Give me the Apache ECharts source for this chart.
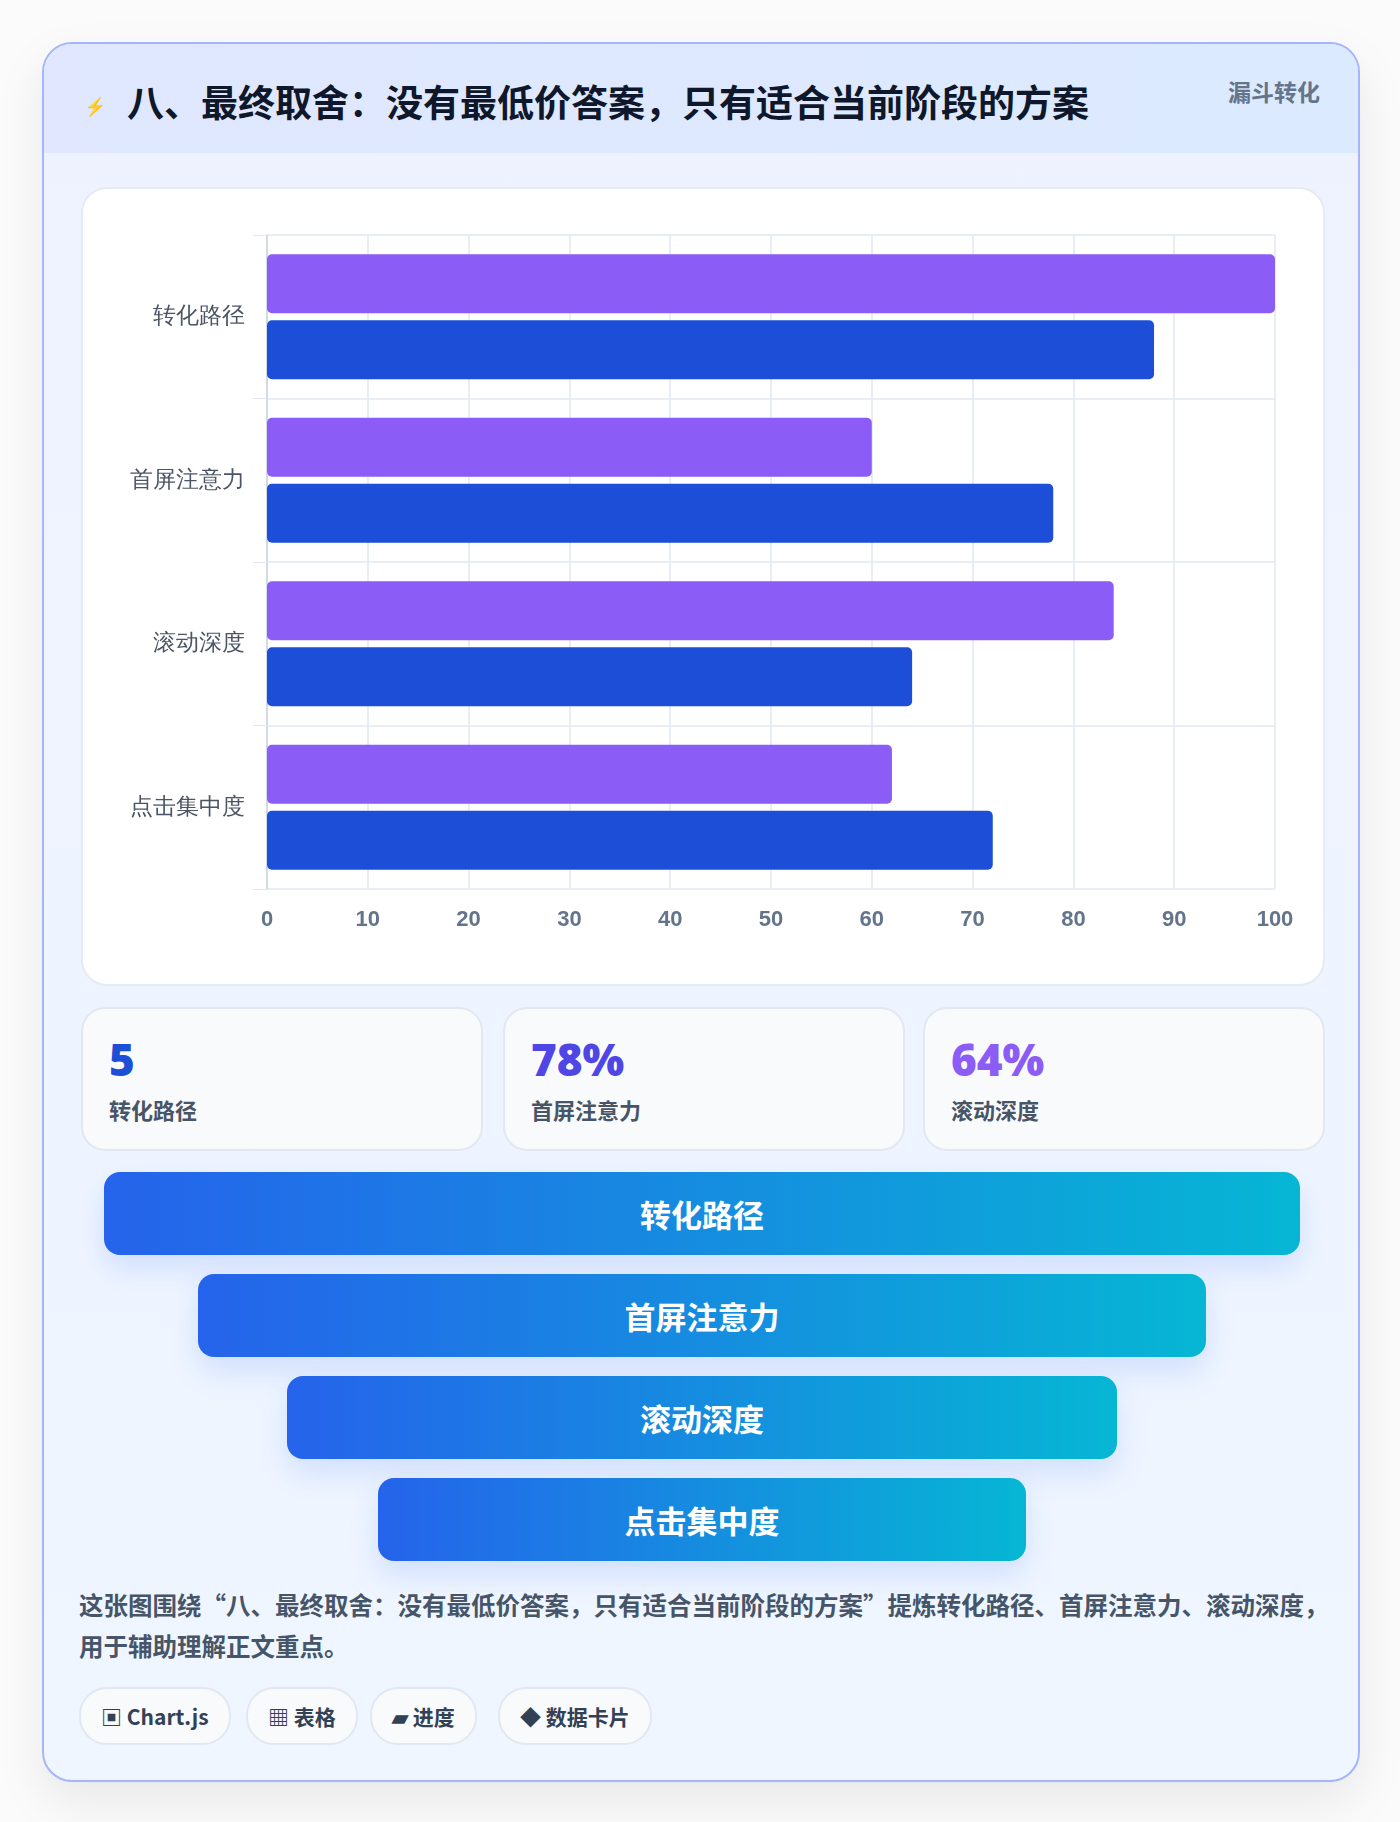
<!DOCTYPE html>
<html><head><meta charset="utf-8">
<script src="https://cdn.jsdelivr.net/npm/echarts@6/dist/echarts.min.js"></script>
<style>
body{margin:0;width:1400px;height:1822px;background:#fbfbfc;font-family:"Noto Sans CJK SC","Noto Sans",sans-serif;position:relative;overflow:hidden}
.card{position:absolute;left:42px;top:42px;width:1314px;height:1736px;border:2px solid #a5b4fc;border-radius:30px;background:linear-gradient(#eef2ff,#eff6ff);box-shadow:0 20px 50px rgba(0,0,0,0.08);overflow:hidden}
.head{position:absolute;left:0;top:0;width:100%;height:109px;background:linear-gradient(90deg,#e0e7ff,#dbeafe)}
.title{position:absolute;left:83px;top:30px;font-size:37px;font-weight:700;color:#0f172a}
.icon{position:absolute;left:40px;top:48px;font-size:18px;color:#2563eb}
.tag{position:absolute;right:38px;top:30px;font-size:23px;font-weight:700;color:#64748b}
.panel{position:absolute;left:37px;top:143px;width:1240px;height:795px;background:#fff;border:2px solid #e5eaf3;border-radius:26px}
#chart{position:absolute;left:0;top:0;width:1240px;height:795px}
.stat{position:absolute;top:963px;height:140px;width:398px;background:#f8fafc;border:2px solid #e2e8f0;border-radius:24px}
.stat .n{position:absolute;left:26px;top:20px;font-size:44px;font-weight:800;font-family:"Open Sans","Noto Sans CJK SC";}
.stat .l{position:absolute;left:26px;top:84px;font-size:22px;font-weight:700;color:#475569}
.fb{position:absolute;height:83px;border-radius:16px;background:linear-gradient(90deg,#2563eb,#06b6d4);color:#fff;font-size:31px;font-weight:700;text-align:center;line-height:83px;box-shadow:0 14px 30px rgba(37,99,235,0.15)}
.desc{position:absolute;left:35px;top:1540px;width:1250px;font-size:24.5px;font-weight:700;color:#475569;line-height:41px}
.pill{position:absolute;top:1643px;height:54px;line-height:54px;border:2px solid #e2e8f0;border-radius:28px;background:#f8fafc;font-size:21px;font-weight:700;color:#334155;padding:0 20px}
</style></head><body>
<div class="card">
<div class="head"><div class="icon">⚡</div><div class="title">八、最终取舍：没有最低价答案，只有适合当前阶段的方案</div><div class="tag">漏斗转化</div></div>
<div class="panel"><div id="chart"></div></div>
<div id="stats"></div>
<div id="funnel"></div>
<div class="desc">这张图围绕“八、最终取舍：没有最低价答案，只有适合当前阶段的方案”提炼转化路径、首屏注意力、滚动深度，用于辅助理解正文重点。</div>
<div class="pill" style="left:35px">▣ Chart.js</div>
<div class="pill" style="left:202px">▦ 表格</div>
<div class="pill" style="left:326px">▰ 进度</div>
<div class="pill" style="left:454px">◆ 数据卡片</div>
</div>
<script>
const categories=["转化路径","首屏注意力","滚动深度","点击集中度"];
const seriesA=[100,60,84,62];
const seriesB=[88,78,64,72];
const xTicks=[0,10,20,30,40,50,60,70,80,90,100];
const stats=[["5","转化路径","#1d4ed8"],["78%","首屏注意力","#4f46e5"],["64%","滚动深度","#8b5cf6"]];
const funnelW=[1196,1008,830,648];

const card=document.querySelector('.card');
const sl=[37,459,879];
stats.forEach((s,i)=>{const d=document.createElement('div');d.className='stat';d.style.left=sl[i]+'px';
d.innerHTML='<div class="n" style="color:'+s[2]+'">'+s[0]+'</div><div class="l">'+s[1]+'</div>';card.appendChild(d);});
categories.forEach((c,i)=>{const d=document.createElement('div');d.className='fb';const w=funnelW[i];
d.style.width=w+'px';d.style.left=(658-w/2)+'px';d.style.top=(1128+i*102)+'px';d.textContent=c;card.appendChild(d);});

const ch=echarts.init(document.getElementById('chart'));
ch.setOption({
 grid:{left:184,right:48,top:46,bottom:95,containLabel:false},
 xAxis:{type:'value',min:0,max:100,interval:10,axisLine:{show:false},axisTick:{show:false},
  splitLine:{lineStyle:{color:'#e2e8f0',width:1.5}},
  axisLabel:{color:'#64748b',fontSize:22,fontWeight:'bold',margin:20,formatter:v=>xTicks.includes(v)?v:''}},
 yAxis:{type:'category',data:categories,inverse:true,
  axisLine:{lineStyle:{color:'#cbd5e1',width:1.5}},axisTick:{show:true,length:14,lineStyle:{color:'#e2e8f0'}},
  splitLine:{show:true,lineStyle:{color:'#e2e8f0',width:1.5}},
  axisLabel:{color:'#4b5563',fontSize:23,margin:22}},
 series:[
  {type:'bar',data:seriesA,barWidth:59,barGap:'12%',itemStyle:{color:'#8b5cf6',borderRadius:5}},
  {type:'bar',data:seriesB,barWidth:59,itemStyle:{color:'#1d4ed8',borderRadius:5}}
 ],animation:false});
</script>
</body></html>
